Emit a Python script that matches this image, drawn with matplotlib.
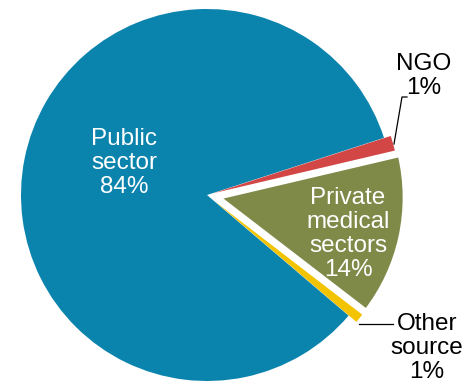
import matplotlib
matplotlib.use("Agg")
import matplotlib.pyplot as plt

categories = ["Public\nsector", "NGO", "Private\nmedical\nsectors", "Other\nsource"]
values = [83.8, 1.3, 14.1, 0.8]
pct_labels = ["84%", "1%", "14%", "1%"]
colors = ["#0A83AD", "#D24646", "#7F8A48", "#F4C300"]

plt.rcParams['font.family'] = ['Liberation Sans', 'DejaVu Sans']

fig = plt.figure(figsize=(4.65, 3.85), dpi=100)
ax = fig.add_axes([0, 0, 1, 1])

H = 385
cx, cy, r = 207, H - 195, 186
pub_deg = values[0] / sum(values) * 360
start = 17.9 + pub_deg
# explode distances are in data units (pixels here)
wedges, _ = ax.pie(values, colors=colors, startangle=start, counterclock=False,
                   center=(cx, cy), radius=r, explode=[0, 7, 12, 10],
                   wedgeprops=dict(linewidth=0), frame=True)
ax.set_xlim(0, 465)
ax.set_ylim(0, H)
ax.set_aspect('equal')
ax.axis('off')
wedges[2].set_edgecolor('white')
wedges[2].set_linewidth(3)
wedges[2].set_zorder(3)

fs = 17.5
ls = 1.12
ax.text(124, H - 163, categories[0] + "\n" + pct_labels[0], color='white',
        ha='center', va='center', fontsize=fs, linespacing=ls)
ax.text(348, H - 234, categories[2] + "\n" + pct_labels[2], color='white',
        ha='center', va='center', fontsize=fs, linespacing=ls, zorder=5)
ax.text(424, H - 76, categories[1] + "\n" + pct_labels[1], color='black',
        ha='center', va='center', fontsize=fs, linespacing=ls)
ax.text(427, H - 348, categories[3] + "\n" + pct_labels[3], color='black',
        ha='center', va='center', fontsize=fs, linespacing=ls)

ax.plot([394, 402, 407], [H - 144, H - 97, H - 97], color='black', lw=0.9)
ax.plot([359, 393], [H - 324, H - 324], color='black', lw=0.9)

fig.savefig("out.png", dpi=100, facecolor='white')
